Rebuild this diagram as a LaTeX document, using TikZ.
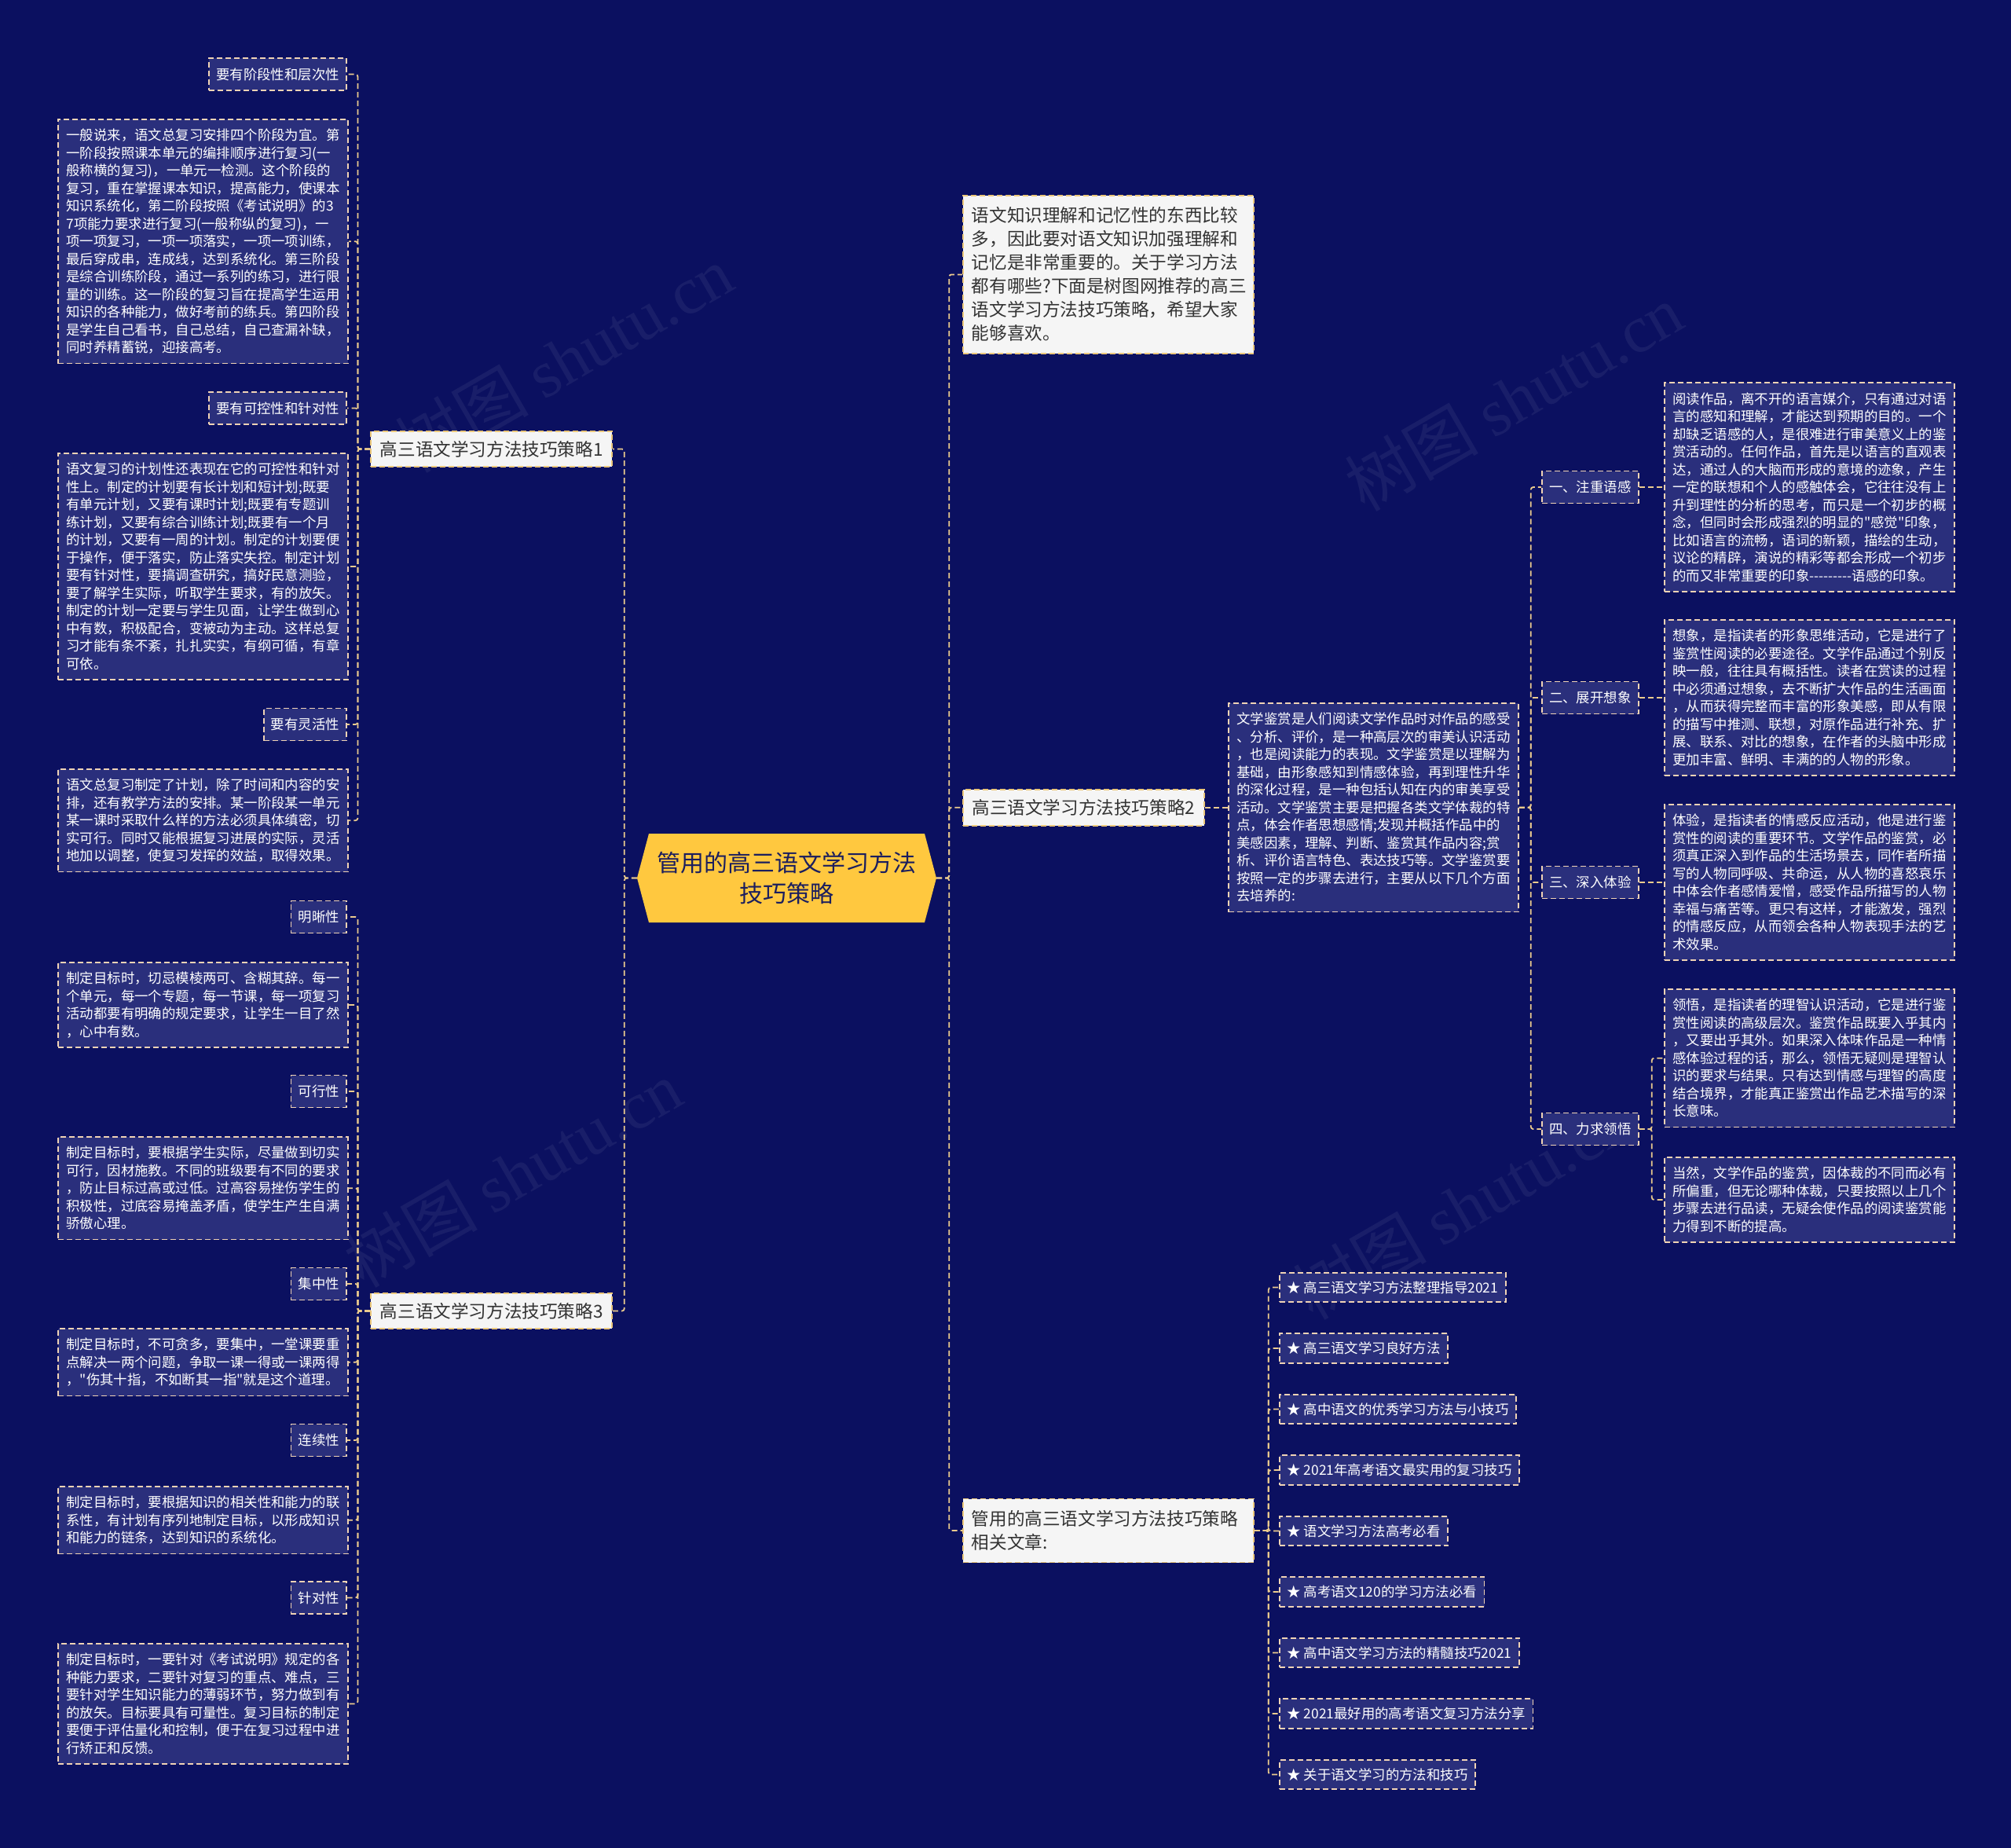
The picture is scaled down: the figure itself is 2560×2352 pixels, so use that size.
\documentclass[tikz,border=0pt]{standalone}
\usepackage{fontspec}
\setmainfont{Noto Sans CJK SC}[Ligatures=TeXOff]
\newfontfamily\wmlatin{Liberation Serif}
\definecolor{bgc}{HTML}{0B1060}
\definecolor{leafc}{HTML}{2A2F7C}
\definecolor{bordc}{HTML}{F0D3B5}
\definecolor{linec}{HTML}{EBCB8E}
\definecolor{whitec}{HTML}{F5F5F5}
\definecolor{wbordc}{HTML}{EBC77A}
\definecolor{darkt}{HTML}{333333}
\definecolor{rootc}{HTML}{FFC83F}
\definecolor{roott}{HTML}{1B1E5E}
\newcommand\leaffont{\fontsize{17.4pt}{22.5pt}\selectfont}
\newcommand\bigfont{\fontsize{22.6pt}{30pt}\selectfont}
\newcommand\rootfont{\fontsize{30pt}{39pt}\selectfont}
\newcommand\lstr{\rule[-4.65pt]{0pt}{22.5pt}}
\newcommand\bstr{\rule[-6.4pt]{0pt}{30pt}}
\newcommand\hy{-\kern0pt}
\tikzset{
  dsh/.style={line width=1.8pt, dash pattern=on 7pt off 4pt},
  leafbox/.style={dsh, draw=bordc, fill=leafc, text=white, font=\leaffont, inner xsep=10.5pt, inner ysep=9pt, text width=348pt, align=left, anchor=west},
  tagbox/.style={dsh, draw=bordc, fill=leafc, text=white, font=\leaffont, inner xsep=9.25pt, inner ysep=9.25pt},
  itembox/.style={tagbox, inner xsep=9.5pt, inner ysep=7.5pt, anchor=west},
  wbox/.style={dsh, draw=wbordc, fill=whitec, text=darkt, font=\bigfont, inner xsep=11pt, inner ysep=10.5pt, text width=348pt, align=left},
  brbox/.style={dsh, draw=wbordc, fill=whitec, text=darkt, font=\bigfont, inner xsep=11.5pt, inner ysep=7.85pt},
  link/.style={dsh, draw=linec, rounded corners=3pt},
  wm/.style={text=white, opacity=0.06, rotate=30, font=\fontsize{85pt}{90pt}\selectfont}
}
\begin{document}
\begin{tikzpicture}[x=1pt,y=-1pt]
\useasboundingbox (0,0) rectangle (2560,2352);
\fill[bgc] (0,0) rectangle (2560,2352);
% watermarks
\node[wm] (wm1) at (718,457) {树图 {\wmlatin shutu.cn}};
\node[wm] (wm2) at (1927,506) {树图 {\wmlatin shutu.cn}};
\node[wm] (wm3) at (653,1494) {树图 {\wmlatin shutu.cn}};
\node[wm] (wm4) at (1861,1535) {树图 {\wmlatin shutu.cn}};
% root
\fill[rootc] (811,1117.5) -- (826,1061) -- (1177,1061) -- (1192,1117.5) -- (1177,1174) -- (826,1174) -- cycle;
\node[font=\rootfont, text=roott, align=center, minimum width=381pt, minimum height=113pt, inner sep=0pt] (root) at (1001.5,1117.5) {管用的高三语文学习方法\\技巧策略};
% left branches
\node[brbox, anchor=east] (b1) at (780,571.5) {\bstr 高三语文学习方法技巧策略1};
\node[brbox, anchor=east] (b3) at (780,1668.5) {\bstr 高三语文学习方法技巧策略3};
% group 1
\node[tagbox, anchor=east] (g1) at (442,94.5) {\lstr 要有阶段性和层次性};
\node[leafbox] (l1) at (73,307.25) {\lstr 一般说来，语文总复习安排四个阶段为宜。第\\一阶段按照课本单元的编排顺序进行复习(一\\般称横的复习)，一单元一检测。这个阶段的\\复习，重在掌握课本知识，提高能力，使课本\\知识系统化，第二阶段按照《考试说明》的3\\7项能力要求进行复习(一般称纵的复习)，一\\项一项复习，一项一项落实，一项一项训练，\\最后穿成串，连成线，达到系统化。第三阶段\\是综合训练阶段，通过一系列的练习，进行限\\量的训练。这一阶段的复习旨在提高学生运用\\知识的各种能力，做好考前的练兵。第四阶段\\是学生自己看书，自己总结，自己查漏补缺，\\同时养精蓄锐，迎接高考。\lstr};
\node[tagbox, anchor=east] (g2) at (442,519.5) {\lstr 要有可控性和针对性};
\node[leafbox] (l2) at (73,721) {\lstr 语文复习的计划性还表现在它的可控性和针对\\性上。制定的计划要有长计划和短计划;既要\\有单元计划，又要有课时计划;既要有专题训\\练计划，又要有综合训练计划;既要有一个月\\的计划，又要有一周的计划。制定的计划要便\\于操作，便于落实，防止落实失控。制定计划\\要有针对性，要搞调查研究，搞好民意测验，\\要了解学生实际，听取学生要求，有的放矢。\\制定的计划一定要与学生见面，让学生做到心\\中有数，积极配合，变被动为主动。这样总复\\习才能有条不紊，扎扎实实，有纲可循，有章\\可依。\lstr};
\node[tagbox, anchor=east] (g3) at (442,922) {\lstr 要有灵活性};
\node[leafbox] (l3) at (73,1044.25) {\lstr 语文总复习制定了计划，除了时间和内容的安\\排，还有教学方法的安排。某一阶段某一单元\\某一课时采取什么样的方法必须具体缜密，切\\实可行。同时又能根据复习进展的实际，灵活\\地加以调整，使复习发挥的效益，取得效果。\lstr};
% group 3
\node[tagbox, anchor=east] (g4) at (442,1167) {\lstr 明晰性};
\node[leafbox] (l4) at (73,1279) {\lstr 制定目标时，切忌模棱两可、含糊其辞。每一\\个单元，每一个专题，每一节课，每一项复习\\活动都要有明确的规定要求，让学生一目了然\\，心中有数。\lstr};
\node[tagbox, anchor=east] (g5) at (442,1389) {\lstr 可行性};
\node[leafbox] (l5) at (73,1512.25) {\lstr 制定目标时，要根据学生实际，尽量做到切实\\可行，因材施教。不同的班级要有不同的要求\\，防止目标过高或过低。过高容易挫伤学生的\\积极性，过底容易掩盖矛盾，使学生产生自满\\骄傲心理。\lstr};
\node[tagbox, anchor=east] (g6) at (442,1634) {\lstr 集中性};
\node[leafbox] (l6) at (73,1733.75) {\lstr 制定目标时，不可贪多，要集中，一堂课要重\\点解决一两个问题，争取一课一得或一课两得\\，"伤其十指，不如断其一指"就是这个道理。\lstr};
\node[tagbox, anchor=east] (g7) at (442,1833) {\lstr 连续性};
\node[leafbox] (l7) at (73,1934.75) {\lstr 制定目标时，要根据知识的相关性和能力的联\\系性，有计划有序列地制定目标，以形成知识\\和能力的链条，达到知识的系统化。\lstr};
\node[tagbox, anchor=east] (g8) at (442,2033.5) {\lstr 针对性};
\node[leafbox] (l8) at (73,2168.5) {\lstr 制定目标时，一要针对《考试说明》规定的各\\种能力要求，二要针对复习的重点、难点，三\\要针对学生知识能力的薄弱环节，努力做到有\\的放矢。目标要具有可量性。复习目标的制定\\要便于评估量化和控制，便于在复习过程中进\\行矫正和反馈。\lstr};
% right branches
\node[wbox, anchor=north west] (intro) at (1225,248) {\bstr 语文知识理解和记忆性的东西比较\\多，因此要对语文知识加强理解和\\记忆是非常重要的。关于学习方法\\都有哪些?下面是树图网推荐的高三\\语文学习方法技巧策略，希望大家\\能够喜欢。\bstr};
\node[brbox, anchor=west] (b2) at (1225,1027.75) {\bstr 高三语文学习方法技巧策略2};
\node[wbox, anchor=west] (rel) at (1225,1948) {\bstr 管用的高三语文学习方法技巧策略\\相关文章:\bstr};
\node[leafbox] (t2) at (1563,1027.75) {\lstr 文学鉴赏是人们阅读文学作品时对作品的感受\\、分析、评价，是一种高层次的审美认识活动\\，也是阅读能力的表现。文学鉴赏是以理解为\\基础，由形象感知到情感体验，再到理性升华\\的深化过程，是一种包括认知在内的审美享受\\活动。文学鉴赏主要是把握各类文学体裁的特\\点，体会作者思想感情;发现并概括作品中的\\美感因素，理解、判断、鉴赏其作品内容;赏\\析、评价语言特色、表达技巧等。文学鉴赏要\\按照一定的步骤去进行，主要从以下几个方面\\去培养的:\lstr};
\node[tagbox, anchor=west] (r1) at (1962,620) {\lstr 一、注重语感};
\node[tagbox, anchor=west] (r2) at (1962,888) {\lstr 二、展开想象};
\node[tagbox, anchor=west] (r3) at (1962,1123) {\lstr 三、深入体验};
\node[tagbox, anchor=west] (r4) at (1962,1437) {\lstr 四、力求领悟};
\node[leafbox] (ra) at (2118,620) {\lstr 阅读作品，离不开的语言媒介，只有通过对语\\言的感知和理解，才能达到预期的目的。一个\\却缺乏语感的人，是很难进行审美意义上的鉴\\赏活动的。任何作品，首先是以语言的直观表\\达，通过人的大脑而形成的意境的迹象，产生\\一定的联想和个人的感触体会，它往往没有上\\升到理性的分析的思考，而只是一个初步的概\\念，但同时会形成强烈的明显的"感觉"印象，\\比如语言的流畅，语词的新颖，描绘的生动，\\议论的精辟，演说的精彩等都会形成一个初步\\的而又非常重要的印象\hy\hy\hy\hy\hy\hy\hy\hy\hy 语感的印象。\lstr};
\node[leafbox] (rb) at (2118,888) {\lstr 想象，是指读者的形象思维活动，它是进行了\\鉴赏性阅读的必要途径。文学作品通过个别反\\映一般，往往具有概括性。读者在赏读的过程\\中必须通过想象，去不断扩大作品的生活画面\\，从而获得完整而丰富的形象美感，即从有限\\的描写中推测、联想，对原作品进行补充、扩\\展、联系、对比的想象，在作者的头脑中形成\\更加丰富、鲜明、丰满的的人物的形象。\lstr};
\node[leafbox] (rc) at (2118,1123) {\lstr 体验，是指读者的情感反应活动，他是进行鉴\\赏性的阅读的重要环节。文学作品的鉴赏，必\\须真正深入到作品的生活场景去，同作者所描\\写的人物同呼吸、共命运，从人物的喜怒哀乐\\中体会作者感情爱憎，感受作品所描写的人物\\幸福与痛苦等。更只有这样，才能激发，强烈\\的情感反应，从而领会各种人物表现手法的艺\\术效果。\lstr};
\node[leafbox] (rd) at (2118,1346.75) {\lstr 领悟，是指读者的理智认识活动，它是进行鉴\\赏性阅读的高级层次。鉴赏作品既要入乎其内\\，又要出乎其外。如果深入体味作品是一种情\\感体验过程的话，那么，领悟无疑则是理智认\\识的要求与结果。只有达到情感与理智的高度\\结合境界，才能真正鉴赏出作品艺术描写的深\\长意味。\lstr};
\node[leafbox] (re) at (2118,1527) {\lstr 当然，文学作品的鉴赏，因体裁的不同而必有\\所偏重，但无论哪种体裁，只要按照以上几个\\步骤去进行品读，无疑会使作品的阅读鉴赏能\\力得到不断的提高。\lstr};
% related items
\node[itembox] (i1) at (1628,1638.5) {\lstr ★ 高三语文学习方法整理指导2021};
\node[itembox] (i2) at (1628,1716) {\lstr ★ 高三语文学习良好方法};
\node[itembox] (i3) at (1628,1793.5) {\lstr ★ 高中语文的优秀学习方法与小技巧};
\node[itembox] (i4) at (1628,1871) {\lstr ★ 2021年高考语文最实用的复习技巧};
\node[itembox] (i5) at (1628,1948.5) {\lstr ★ 语文学习方法高考必看};
\node[itembox] (i6) at (1628,2026) {\lstr ★ 高考语文120的学习方法必看};
\node[itembox] (i7) at (1628,2103.5) {\lstr ★ 高中语文学习方法的精髓技巧2021};
\node[itembox] (i8) at (1628,2181) {\lstr ★ 2021最好用的高考语文复习方法分享};
\node[itembox] (i9) at (1628,2258.5) {\lstr ★ 关于语文学习的方法和技巧};
% links: root
\draw[link] (root.west) -- ++(-16,0) |- (b1.east);
\draw[link] (root.west) -- ++(-16,0) |- (b3.east);
\draw[link] (root.east) -- ++(16,0) |- (intro.west);
\draw[link] (root.east) -- ++(16,0) |- (b2.west);
\draw[link] (root.east) -- ++(16,0) |- (rel.west);
% links: left groups
\foreach \n in {g1,l1,g2,l2,g3,l3}{\draw[link] (b1.west) -- ++(-16,0) |- (\n.east);}
\foreach \n in {g4,l4,g5,l5,g6,l6,g7,l7,g8,l8}{\draw[link] (b3.west) -- ++(-16,0) |- (\n.east);}
% links: right
\draw[link] (b2.east) -- (t2.west);
\foreach \n in {r1,r2,r3,r4}{\draw[link] (t2.east) -- ++(15,0) |- (\n.west);}
\draw[link] (r1.east) -- (ra.west);
\draw[link] (r2.east) -- (rb.west);
\draw[link] (r3.east) -- (rc.west);
\draw[link] (r4.east) -- ++(16,0) |- (rd.west);
\draw[link] (r4.east) -- ++(16,0) |- (re.west);
\foreach \n in {i1,i2,i3,i4,i5,i6,i7,i8,i9}{\draw[link] (rel.east) -- ++(18,0) |- (\n.west);}
\end{tikzpicture}
\end{document}
